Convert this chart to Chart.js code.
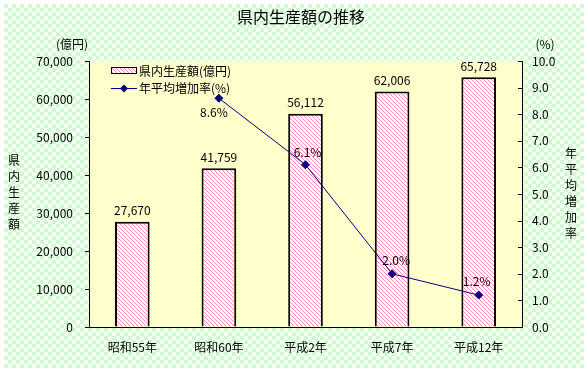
<!DOCTYPE html>
<html lang="ja">
<head>
  <meta charset="UTF-8">
  <title>県内生産額の推移</title>
  <script src="https://cdn.jsdelivr.net/npm/chart.js"></script>
  <style>
    body { margin: 0; background: #fff; }
    canvas { display: block; }
  </style>
</head>
<body>
  <canvas id="grafico" width="586" height="371"></canvas>

  <script>
    const categorias = ['昭和55年', '昭和60年', '平成2年', '平成7年', '平成12年'];
    const produccion = [27670, 41759, 56112, 62006, 65728];
    const tasa = [null, 8.6, 6.1, 2.0, 1.2];
    const ticksIzq = [0, 10000, 20000, 30000, 40000, 50000, 60000, 70000];
    const ticksDer = [0, 1, 2, 3, 4, 5, 6, 7, 8, 9, 10];

    const FUENTE = '"Noto Sans CJK JP", "Noto Sans", sans-serif';

    // tramado rosa en diagonal para las barras
    function tramado() {
      const c = document.createElement('canvas');
      c.width = 4; c.height = 4;
      const g = c.getContext('2d');
      g.fillStyle = '#ffffff';
      g.fillRect(0, 0, 4, 4);
      g.fillStyle = '#ff88c8';
      for (let i = 0; i < 4; i++) g.fillRect(i, i, 1, 1);
      return g.createPattern(c, 'repeat');
    }

    const ctx = document.getElementById('grafico').getContext('2d');
    const rosa = tramado();

    // offsets de las etiquetas de porcentaje respecto al punto
    const offTasa = [null, [-5, 14], [2, -12], [4, -13], [-2, -14]];

    const fondo = {
      id: 'fondo',
      beforeDraw(chart) {
        const c = chart.ctx;
        const a = chart.chartArea;
        c.save();
        c.fillStyle = '#ffffff';
        c.fillRect(0, 0, chart.width, chart.height);
        c.fillStyle = '#ccffcc';
        for (let y = 4; y < chart.height - 4; y += 4) {
          for (let x = 4; x < chart.width - 4; x += 4) {
            if (((x + y) / 4) % 2 === 0) c.fillRect(x, y, 4, 4);
          }
        }
        c.fillStyle = '#ffffcc';
        c.fillRect(a.left, a.top, a.right - a.left, a.bottom - a.top);
        c.restore();
      },
      afterDraw(chart) {
        const c = chart.ctx;
        const a = chart.chartArea;
        c.save();
        c.fillStyle = '#000';
        c.textAlign = 'center';
        c.textBaseline = 'middle';
        c.font = '16px ' + FUENTE;
        c.fillText('県内生産額の推移', 301, 17);

        c.font = '12px ' + FUENTE;
        c.fillText('(億円)', 72, 44);
        c.fillText('(%)', 545, 44);
        '県内生産額'.split('').forEach((ch, i) => c.fillText(ch, 14, 160 + i * 16));
        '年平均増加率'.split('').forEach((ch, i) => c.fillText(ch, 571, 153 + i * 16));

        // marcas de los ejes
        c.strokeStyle = '#000';
        c.lineWidth = 1;
        const sy = chart.scales.y, sy1 = chart.scales.y1;
        ticksIzq.forEach(v => {
          const p = Math.round(sy.getPixelForValue(v)) + 0.5;
          c.beginPath(); c.moveTo(a.left - 4, p); c.lineTo(a.left, p); c.stroke();
        });
        ticksDer.forEach(v => {
          const p = Math.round(sy1.getPixelForValue(v)) + 0.5;
          c.beginPath(); c.moveTo(a.right - 4, p); c.lineTo(a.right, p); c.stroke();
        });

        // leyenda
        c.textAlign = 'left';
        c.fillStyle = rosa;
        c.fillRect(111, 67, 25, 6);
        c.strokeRect(111.5, 67.5, 25, 6);
        c.fillStyle = '#000';
        c.fillText('県内生産額(億円)', 139, 71);
        c.strokeStyle = '#000080';
        c.beginPath(); c.moveTo(111, 88.5); c.lineTo(137, 88.5); c.stroke();
        c.fillStyle = '#000080';
        c.beginPath();
        c.moveTo(124, 84.5); c.lineTo(128, 88.5); c.lineTo(124, 92.5); c.lineTo(120, 88.5);
        c.closePath(); c.fill();
        c.fillStyle = '#000';
        c.fillText('年平均増加率(%)', 139, 88);

        // etiquetas de datos
        c.textAlign = 'center';
        chart.getDatasetMeta(0).data.forEach((bar, i) => {
          c.fillText(produccion[i].toLocaleString('en-US'), bar.x, bar.y - 11);
        });
        chart.getDatasetMeta(1).data.forEach((pt, i) => {
          if (tasa[i] === null) return;
          const o = offTasa[i];
          c.fillText(tasa[i].toFixed(1) + '%', pt.x + o[0], pt.y + o[1]);
        });
        c.restore();
      }
    };

    new Chart(ctx, {
      data: {
        labels: categorias,
        datasets: [{
          type: 'bar',
          label: '県内生産額(億円)',
          data: produccion,
          backgroundColor: rosa,
          borderColor: '#000',
          borderWidth: 2,
          barPercentage: 0.4,
          categoryPercentage: 1,
          yAxisID: 'y',
          order: 1
        }, {
          type: 'line',
          label: '年平均増加率(%)',
          data: tasa,
          borderColor: '#000080',
          backgroundColor: '#000080',
          borderWidth: 1,
          pointStyle: 'rectRot',
          pointRadius: 4,
          tension: 0,
          yAxisID: 'y1',
          order: 0
        }]
      },
      options: {
        responsive: false,
        animation: false,
        layout: { padding: { top: 61, left: 0, right: 0, bottom: 0 } },
        plugins: {
          legend: { display: false },
          tooltip: { enabled: false }
        },
        scales: {
          x: {
            grid: { display: false, drawTicks: false },
            border: { color: '#000', width: 1 },
            ticks: { color: '#000', font: { family: FUENTE, size: 12 }, padding: 13, maxRotation: 0 },
            afterFit(s) { s.height = 44; }
          },
          y: {
            position: 'left',
            min: 0, max: 70000,
            grid: { drawOnChartArea: false, drawTicks: false },
            border: { color: '#000', width: 1 },
            ticks: {
              stepSize: 10000,
              padding: 16,
              color: '#000',
              font: { family: FUENTE, size: 12 },
              callback: v => v.toLocaleString('en-US')
            },
            afterFit(s) { s.width = 89; }
          },
          y1: {
            position: 'right',
            min: 0, max: 10,
            grid: { drawOnChartArea: false, drawTicks: false },
            border: { color: '#000', width: 1 },
            ticks: {
              stepSize: 1,
              padding: 10,
              color: '#000',
              font: { family: FUENTE, size: 12 },
              callback: v => v.toFixed(1)
            },
            afterFit(s) { s.width = 64; }
          }
        }
      },
      plugins: [fondo]
    });
  </script>
</body>
</html>
